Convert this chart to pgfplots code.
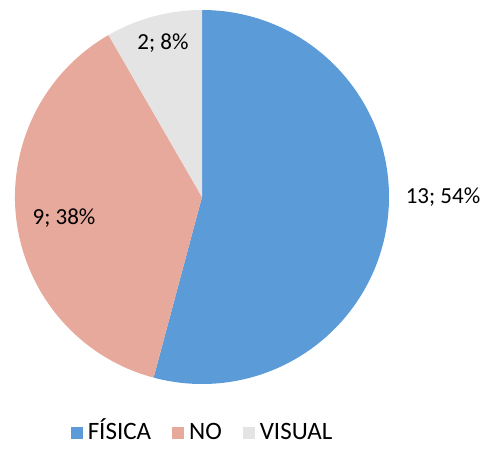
\documentclass[border=0pt]{standalone}
\usepackage{pgfplots}
\pgfplotsset{compat=1.18}
\usepackage{fontspec}
\setmainfont{Carlito}
\definecolor{cFis}{HTML}{5B9BD8}
\definecolor{cNo}{HTML}{E8A99D}
\definecolor{cVis}{HTML}{E4E4E4}
% valores: FISICA 13, NO 9, VISUAL 2 (total 24 -> 15 grados por unidad)
\begin{document}
\begin{tikzpicture}
\begin{axis}[
    scale only axis,
    axis line style={draw=none}, xtick=\empty, ytick=\empty,
    x=0.5pt, y=0.5pt,
    xmin=0, xmax=482, ymin=0, ymax=448,
    legend columns=3,
    legend style={at={(axis cs:204,15)}, anchor=center, draw=none, fill=none,
        font=\fontsize{12.5}{14}\selectfont,
        nodes={text height=1.6ex, text depth=0.3ex, inner xsep=2.5pt},
        /tikz/every even column/.append style={column sep=8pt}},
    legend image code/.code={\fill[#1,draw=none] (0pt,-3pt) rectangle (6pt,3pt);},
]
% sectores (radio 187 px = 93.5pt), en sentido horario desde las 12
\fill[cFis] (axis cs:202,251) -- ++(90:93.5pt) arc[start angle=90, end angle={90-13*15}, radius=93.5pt] -- cycle;
\fill[cNo] (axis cs:202,251) -- ++({90-13*15}:93.5pt) arc[start angle={90-13*15}, end angle={90-22*15}, radius=93.5pt] -- cycle;
\fill[cVis] (axis cs:202,251) -- ++({90-22*15}:93.5pt) arc[start angle={90-22*15}, end angle={90-24*15}, radius=93.5pt] -- cycle;
\addlegendimage{fill=cFis}\addlegendentry{FÍSICA}
\addlegendimage{fill=cNo}\addlegendentry{NO}
\addlegendimage{fill=cVis}\addlegendentry{VISUAL}
\node[font=\fontsize{11.5}{13}\selectfont] at (axis cs:163,405) {2; 8\%};
\node[font=\fontsize{11.5}{13}\selectfont] at (axis cs:64,230) {9; 38\%};
\node[font=\fontsize{11.5}{13}\selectfont] at (axis cs:443,251) {13; 54\%};
\end{axis}
\end{tikzpicture}
\end{document}
